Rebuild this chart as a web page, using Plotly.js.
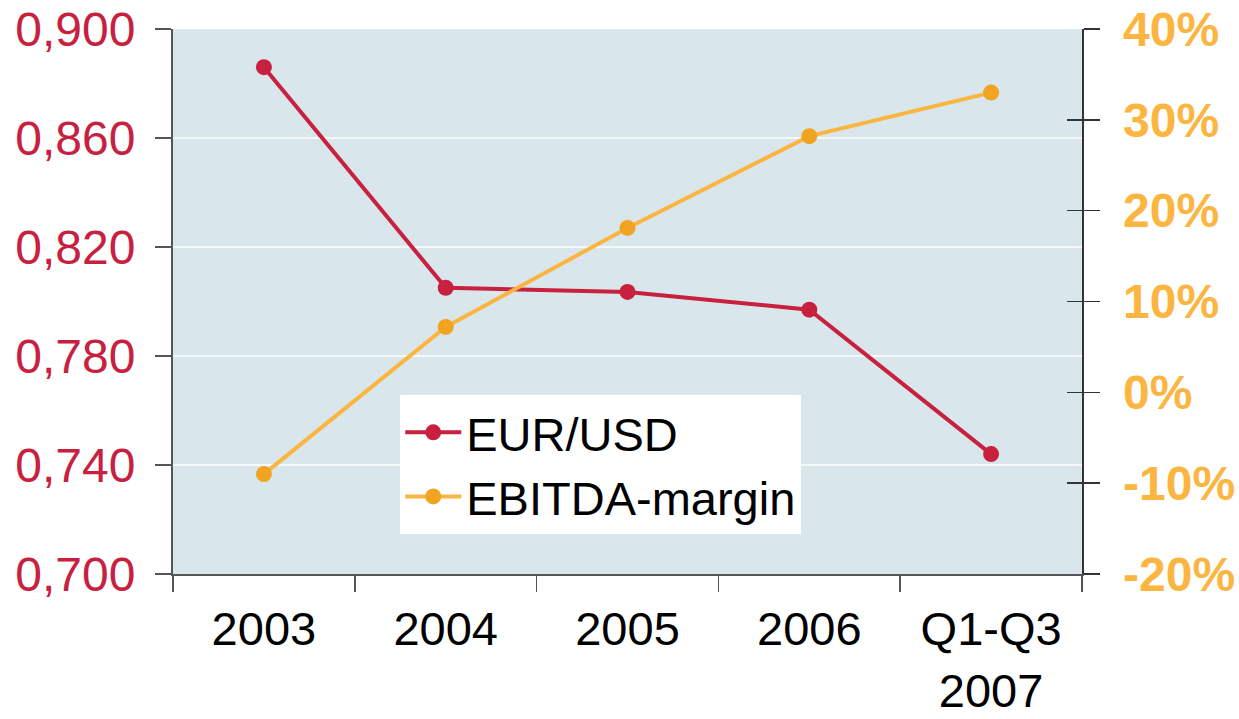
<!DOCTYPE html>
<html>
<head>
<meta charset="utf-8">
<script src="https://cdn.plot.ly/plotly-3.0.1.min.js"></script>
<style>html,body{margin:0;padding:0;background:#fff;}#chart{width:1239px;height:719px;}</style>
</head>
<body>
<div id="chart"></div>
<script>
const categories = ["2003", "2004", "2005", "2006", "Q1-Q3<br>2007"];
const eurUsd = [0.886, 0.805, 0.8035, 0.797, 0.744];
const ebitdaMargin = [-9, 7.2, 18.1, 28.2, 33];
const leftTicks = [0.700, 0.740, 0.780, 0.820, 0.860, 0.900];
const rightTicks = [-20, -10, 0, 10, 20, 30, 40];
const rightTickLabels = ["-20%", "-10%", "0%", "10%", "20%", "30%", "40%"];

const font = "Liberation Sans, Arial, sans-serif";
const traces = [
  {
    x: categories, y: eurUsd, name: "EUR/USD", type: "scatter", mode: "lines+markers",
    line: {color: "#c8203f", width: 4}, marker: {color: "#c8203f", size: 16},
    yaxis: "y"
  },
  {
    x: categories, y: ebitdaMargin, name: "EBITDA-margin", type: "scatter", mode: "lines+markers",
    line: {color: "#fbb540", width: 4}, marker: {color: "#f0a421", size: 16},
    yaxis: "y2"
  },
  {x: [categories[0]], y: [null], yaxis: "y3", showlegend: false, hoverinfo: "skip", type: "scatter", mode: "markers"}
];

const layout = {
  width: 1239, height: 719,
  margin: {l: 173, r: 157, t: 29, b: 145},
  paper_bgcolor: "#ffffff",
  plot_bgcolor: "#d9e6ec",
  separators: ", ",
  showlegend: true,
  font: {family: font, size: 46, color: "#000"},
  legend: {
    x: 0.25, y: 0.328, xanchor: "left", yanchor: "top",
    bgcolor: "#ffffff", borderwidth: 0,
    font: {family: font, size: 47, color: "#000"},
    itemwidth: 56, tracegroupgap: 0
  },
  xaxis: {
    type: "category",
    tickson: "boundaries",
    ticks: "outside", ticklen: 16, tickwidth: 1.5, tickcolor: "#555",
    showline: true, linecolor: "#555", linewidth: 2,
    showgrid: false, zeroline: false,
    tickfont: {family: font, size: 47, color: "#000"},
    ticklabelstandoff: 13,
    range: [-0.5, 4.5]
  },
  yaxis: {
    range: [0.700, 0.900],
    tickvals: leftTicks,
    tickformat: ".3f",
    ticks: "outside", ticklen: 16, tickwidth: 1.5, tickcolor: "#555",
    showline: true, linecolor: "#555", linewidth: 2,
    showgrid: true, gridcolor: "rgba(255,255,255,0.7)", gridwidth: 1.5,
    zeroline: false,
    tickfont: {family: font, size: 48, color: "#c8203f"},
    ticklabelstandoff: 10
  },
  yaxis2: {
    overlaying: "y", side: "right",
    range: [-20, 40],
    tickvals: rightTicks,
    ticktext: rightTickLabels.map(t => "<b>" + t + "</b>"),
    ticks: "outside", ticklen: 16, tickwidth: 1.5, tickcolor: "#333",
    showline: true, linecolor: "#333", linewidth: 1.5,
    showgrid: false, zeroline: false,
    tickfont: {family: font, size: 48, color: "#fbb540"},
    ticklabelstandoff: 14
  },
  yaxis3: {
    overlaying: "y", side: "right",
    range: [-20, 40],
    tickvals: rightTicks,
    showticklabels: false,
    ticks: "inside", ticklen: 15, tickwidth: 1.5, tickcolor: "#333",
    showline: false, showgrid: false, zeroline: false
  }
};

Plotly.newPlot("chart", traces, layout, {displayModeBar: false, staticPlot: true});
</script>
</body>
</html>
